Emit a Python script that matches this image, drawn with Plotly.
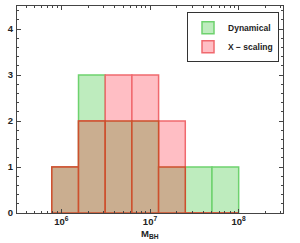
import numpy as np
import plotly.graph_objects as go

# bin edges (M_BH) and counts per bin
bin_edges = [7.8125e5, 1.5625e6, 3.125e6, 6.25e6, 1.25e7, 2.5e7, 5e7, 1e8]
dynamical_counts = [1, 3, 2, 2, 1, 1, 1]
xscaling_counts = [1, 2, 3, 3, 2, 0, 0]
x_tick_vals = [1e6, 1e7, 1e8]
x_tick_text = ["10<sup>6</sup>", "10<sup>7</sup>", "10<sup>8</sup>"]
y_tick_vals = [0, 1, 2, 3, 4]

le = np.log10(bin_edges)
centers = (le[:-1] + le[1:]) / 2
widths = le[1:] - le[:-1]
overlap = np.minimum(dynamical_counts, xscaling_counts)

fig = go.Figure()
fig.add_trace(go.Bar(x=centers, y=dynamical_counts, width=widths, name="Dynamical",
                     marker=dict(color="rgb(190,236,190)", line=dict(color="rgb(110,210,110)", width=1.5))))
fig.add_trace(go.Bar(x=centers, y=xscaling_counts, width=widths, name="X − scaling",
                     marker=dict(color="rgb(255,190,196)", line=dict(color="rgb(240,105,110)", width=1.5))))
fig.add_trace(go.Bar(x=centers, y=overlap, width=widths, showlegend=False, hoverinfo="skip",
                     marker=dict(color="rgb(202,174,144)", line=dict(color="rgb(205,80,45)", width=1.5))))

minor_x = [np.log10(k * 10.0 ** n) for n in range(5, 9) for k in range(2, 10)]
minor_x = [v for v in minor_x if 5.5 <= v <= 8.5]

frame = "#444444"
fig.update_layout(
    barmode="overlay",
    width=300, height=243,
    margin=dict(l=17, r=17, t=6, b=30),
    paper_bgcolor="white", plot_bgcolor="white",
    font=dict(family="Liberation Sans", size=9, color="#222"),
    legend=dict(x=0.985, y=0.97, xanchor="right", yanchor="top",
                bgcolor="white", bordercolor="#333", borderwidth=1,
                font=dict(size=8.5, family="Liberation Sans", weight="bold"),
                itemwidth=30, tracegroupgap=0),
    showlegend=True,
    annotations=[dict(text="M<sub>BH</sub>", xref="paper", yref="paper", x=0.5, y=-0.1,
                      xanchor="center", yanchor="middle", showarrow=False,
                      font=dict(size=9.5, weight="bold", color="#222"))],
)
fig.update_xaxes(range=[5.5, 8.5], tickmode="array", tickvals=np.log10(x_tick_vals), ticktext=x_tick_text,
                 showline=True, linecolor=frame, linewidth=1, mirror="allticks", automargin=False,
                 ticks="inside", ticklen=4, tickcolor=frame, showgrid=False, zeroline=False,
                 tickfont=dict(size=9.5, weight="bold"), ticklabelstandoff=0,
                 minor=dict(tickmode="array", tickvals=minor_x, ticks="inside", ticklen=2, tickcolor=frame, showgrid=False))
fig.update_yaxes(range=[0, 4.5], tickvals=y_tick_vals, automargin=False,
                 showline=True, linecolor=frame, linewidth=1, mirror="allticks",
                 ticks="inside", ticklen=4, tickcolor=frame, showgrid=False, zeroline=False,
                 tickfont=dict(size=9.5, weight="bold"), ticklabelstandoff=1,
                 minor=dict(dtick=0.2, ticks="inside", ticklen=2, tickcolor=frame, showgrid=False))

fig.write_html("out.html", config={"displayModeBar": False},
               post_script="document.body.style.margin='0';")
